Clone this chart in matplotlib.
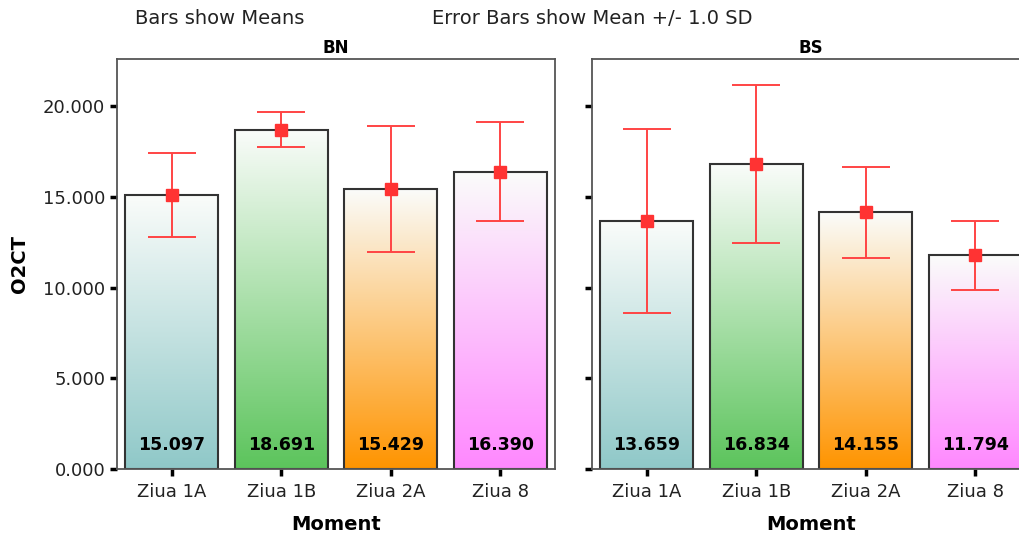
import matplotlib.pyplot as plt
import numpy as np
from matplotlib.colors import LinearSegmentedColormap
from matplotlib.ticker import FuncFormatter

plt.rcParams['font.family'] = ['DejaVu Sans']

moments = ["Ziua 1A", "Ziua 1B", "Ziua 2A", "Ziua 8"]
panels = ["BN", "BS"]
means_bn = [15097, 18691, 15429, 16390]
means_bs = [13659, 16834, 14155, 11794]
sd_bn = [2300, 960, 3470, 2730]
sd_bs = [5080, 4360, 2500, 1900]
bar_colors = ["#8fc8c8", "#5cc45c", "#ff9400", "#ff88ff"]

fig = plt.figure(figsize=(10.19, 5.38), dpi=100)
ax_bn = fig.add_axes([117 / 1019, 1 - 469 / 538, 438 / 1019, 410 / 538])
ax_bs = fig.add_axes([592 / 1019, 1 - 469 / 538, 438 / 1019, 410 / 538])

gradient = np.linspace(0, 1, 256).reshape(-1, 1)
width = 0.85


def draw_panel(ax, means, sds, title, show_labels):
    ax.set_xlim(-0.5, 3.5)
    ax.set_ylim(0, 22600)
    for i, (m, s, c) in enumerate(zip(means, sds, bar_colors)):
        # vertical gradient: full colour at the bottom, almost white at the top
        cmap = LinearSegmentedColormap.from_list("g", [c, "#fafcfa"])
        ax.imshow(gradient, extent=[i - width / 2, i + width / 2, 0, m],
                  origin="lower", aspect="auto", cmap=cmap, zorder=1)
        ax.bar(i, m, width=width, facecolor="none", edgecolor="#333333",
               linewidth=1.5, zorder=2)
        ax.errorbar(i, m, yerr=s, fmt="s", color="#ff3333", ecolor="#ff4444",
                    markersize=8.5, capsize=17.5, elinewidth=1.4, capthick=1.4,
                    zorder=3)
        ax.text(i, 1300, f"{m / 1000:.3f}", ha="center", va="center",
                fontsize=12.5, fontweight="bold", zorder=4)
    ax.set_xticks(range(len(moments)))
    ax.set_xticklabels(moments, fontsize=13, color="#222222")
    ax.set_yticks([0, 5000, 10000, 15000, 20000])
    ax.yaxis.set_major_formatter(FuncFormatter(lambda v, p: f"{v / 1000:.3f}"))
    ax.tick_params(axis="both", direction="out", length=5, width=2.5,
                   labelsize=13, color="black", labelcolor="#222222")
    ax.tick_params(axis="x", pad=5)
    if not show_labels:
        ax.tick_params(axis="y", labelleft=False)
    for sp in ax.spines.values():
        sp.set_color("#555555")
        sp.set_linewidth(1.3)
    ax.set_title(title, fontsize=12, fontweight="bold", pad=4)
    ax.set_xlabel("Moment", fontsize=14, fontweight="bold", labelpad=10)


draw_panel(ax_bn, means_bn, sd_bn, panels[0], True)
draw_panel(ax_bs, means_bs, sd_bs, panels[1], False)
ax_bn.set_ylabel("O2CT", fontsize=14, fontweight="bold", labelpad=10)

fig.text(135 / 1019, 1 - 19 / 538, "Bars show Means", fontsize=14,
         va="center", color="#222222")
fig.text(432 / 1019, 1 - 19 / 538, "Error Bars show Mean +/- 1.0 SD",
         fontsize=14, va="center", color="#222222")

fig.savefig("out.png", dpi=100)
